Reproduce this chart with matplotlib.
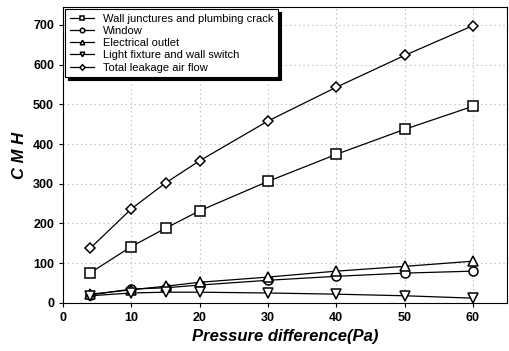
import matplotlib
matplotlib.use("Agg")
import matplotlib.pyplot as plt

plt.rcParams['font.family'] = ['Liberation Sans', 'DejaVu Sans']

pressure = [4, 10, 15, 20, 30, 40, 50, 60]
wall = [76, 142, 188, 232, 306, 374, 437, 495]
window = [20, 35, 38, 45, 57, 67, 75, 80]
electrical = [22, 33, 42, 52, 65, 80, 92, 105]
light = [18, 25, 27, 27, 25, 22, 18, 12]
total = [138, 237, 302, 358, 458, 543, 623, 698]

labels = ["Wall junctures and plumbing crack", "Window", "Electrical outlet",
          "Light fixture and wall switch", "Total leakage air flow"]
xticks = [0, 10, 20, 30, 40, 50, 60]
yticks = [0, 100, 200, 300, 400, 500, 600, 700]

fig = plt.figure(figsize=(5.09, 3.51), dpi=100)
ax = fig.add_axes([0.124, 0.137, 0.872, 0.843])

series = [(wall, 's'), (window, 'o'), (electrical, '^'), (light, 'v'), (total, 'D')]
for (vals, m), lab in zip(series, labels):
    ax.plot(pressure, vals, color='black', lw=0.9, marker=m,
            markersize=6.5 if m != 'D' else 5.5, markerfacecolor='white',
            markeredgecolor='black', markeredgewidth=1.1, label=lab)

ax.set_xlim(0, 65)
ax.set_ylim(0, 745)
ax.set_xticks(xticks)
ax.set_yticks(yticks)
ax.grid(True, color='#b0b0b0', linestyle=(0, (1, 3)), linewidth=0.8)
ax.tick_params(direction='out', length=3, labelsize=9)
for t in ax.get_xticklabels() + ax.get_yticklabels():
    t.set_fontweight('bold')
ax.set_xlabel("Pressure difference(Pa)", fontsize=12, fontweight='bold', style='italic')
ax.set_ylabel("C M H", fontsize=12, fontweight='bold', style='italic')
for s in ax.spines.values():
    s.set_linewidth(0.8)

leg = ax.legend(loc='upper left', bbox_to_anchor=(0.0, 1.0), fontsize=8,
                frameon=True, fancybox=False,
                shadow={'color': 'black', 'alpha': 1.0}, edgecolor='black',
                markerscale=0.5, handlelength=2.2, borderpad=0.4, labelspacing=0.2,
                borderaxespad=0.2)
leg.get_frame().set_linewidth(0.8)

fig.savefig("out.png", dpi=100)
